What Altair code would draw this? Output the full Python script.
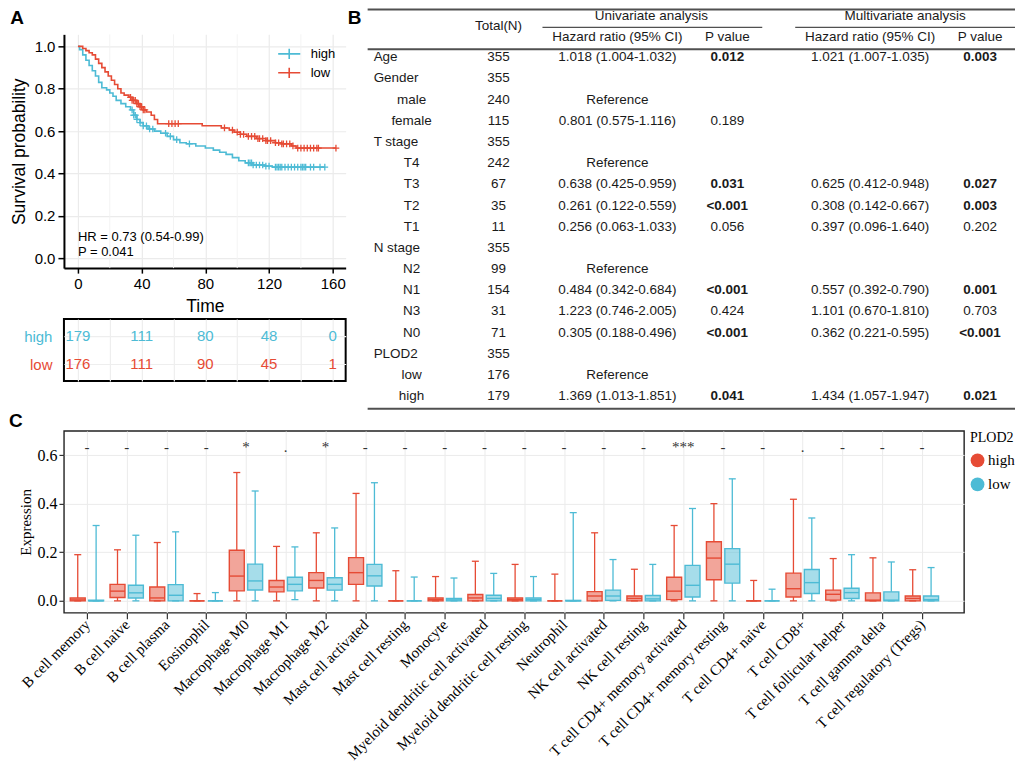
import json
import numpy as np
import pandas as pd
import altair as alt

SANS = "Liberation Sans"
SERIF = "Liberation Serif"
RED = "#E64B35"
CYAN = "#4DBBD5"
TXT = "#1a1a1a"
groups = ["high", "low"]

# ---------------- Panel A: Kaplan-Meier curves ----------------
high_time = [0, 1, 3, 5, 7, 9, 11, 13, 15, 18, 20, 22, 24, 27, 30, 33, 35, 37, 39, 41,
             44, 48, 52, 56, 60, 64, 68, 74, 80, 85, 89, 93, 97, 101, 105, 110, 117, 122]
high_surv = [1.0, 0.985, 0.96, 0.935, 0.91, 0.885, 0.86, 0.83, 0.805, 0.795, 0.78, 0.765,
             0.745, 0.73, 0.715, 0.70, 0.675, 0.655, 0.64, 0.625, 0.61, 0.60, 0.59, 0.575,
             0.56, 0.545, 0.54, 0.53, 0.52, 0.51, 0.50, 0.49, 0.475, 0.46, 0.45, 0.44, 0.435, 0.43]
high_censor = [34, 35, 36, 37, 39, 41, 43, 45, 47, 55, 58, 62, 70, 107, 108, 109, 110, 112,
               114, 116, 118, 120, 124, 125, 126, 127, 128, 130, 132, 134, 136, 138, 140,
               141, 142, 143, 146, 148, 152, 155]
low_time = [0, 3, 5, 7, 9, 11, 13, 15, 17, 19, 21, 23, 25, 27, 29, 32, 34, 37, 39, 41,
            43, 46, 48, 50, 78, 90, 95, 98, 102, 106, 112, 118, 124, 128, 134, 137]
low_surv = [1.0, 0.99, 0.98, 0.97, 0.96, 0.94, 0.92, 0.90, 0.88, 0.86, 0.84, 0.82, 0.80,
            0.78, 0.77, 0.76, 0.745, 0.73, 0.715, 0.70, 0.69, 0.675, 0.655, 0.635, 0.625,
            0.615, 0.605, 0.595, 0.585, 0.575, 0.565, 0.555, 0.545, 0.54, 0.53, 0.52]
low_censor = [33, 34, 35, 36, 37, 38, 39, 40, 41, 42, 57, 59, 61, 63, 92, 97, 100, 102, 104,
              107, 109, 111, 113, 114, 116, 118, 119, 121, 124, 126, 128, 129, 131, 133, 135,
              138, 140, 142, 144, 146, 148, 150, 151, 162]
km_ticks_x = [0, 40, 80, 120, 160]
km_minor_x = [20, 60, 100, 140]
km_ticks_y = [0.0, 0.2, 0.4, 0.6, 0.8, 1.0]
hr_labels = ["HR = 0.73 (0.54-0.99)", "P = 0.041"]
hr_time = [0, 0]
hr_surv = [0.10, 0.03]

risk_times = [0, 40, 80, 120, 160]
risk_high = [179, 111, 80, 48, 0]
risk_low = [176, 111, 90, 45, 1]

# ---------------- Panel B: Cox table ----------------
row_labels = ["Age", "Gender", "male", "female", "T stage", "T4", "T3", "T2", "T1",
              "N stage", "N2", "N1", "N3", "N0", "PLOD2", "low", "high"]
row_is_sub = [0, 0, 1, 1, 0, 1, 1, 1, 1, 0, 1, 1, 1, 1, 0, 1, 1]
row_total = [355, 355, 240, 115, 355, 242, 67, 35, 11, 355, 99, 154, 31, 71, 355, 176, 179]
uni_hr = ["1.018 (1.004-1.032)", "", "Reference", "0.801 (0.575-1.116)", "", "Reference",
          "0.638 (0.425-0.959)", "0.261 (0.122-0.559)", "0.256 (0.063-1.033)", "", "Reference",
          "0.484 (0.342-0.684)", "1.223 (0.746-2.005)", "0.305 (0.188-0.496)", "", "Reference",
          "1.369 (1.013-1.851)"]
uni_p = ["0.012", "", "", "0.189", "", "", "0.031", "<0.001", "0.056", "", "", "<0.001",
         "0.424", "<0.001", "", "", "0.041"]
multi_hr = ["1.021 (1.007-1.035)", "", "", "", "", "", "0.625 (0.412-0.948)",
            "0.308 (0.142-0.667)", "0.397 (0.096-1.640)", "", "", "0.557 (0.392-0.790)",
            "1.101 (0.670-1.810)", "0.362 (0.221-0.595)", "", "", "1.434 (1.057-1.947)"]
multi_p = ["0.003", "", "", "", "", "", "0.027", "0.003", "0.202", "", "", "0.001", "0.703",
           "<0.001", "", "", "0.021"]

# ---------------- Panel C: immune cell boxplots ----------------
cells = ["B cell memory", "B cell naive", "B cell plasma", "Eosinophil", "Macrophage M0",
         "Macrophage M1", "Macrophage M2", "Mast cell activated", "Mast cell resting",
         "Monocyte", "Myeloid dendritic cell activated", "Myeloid dendritic cell resting",
         "Neutrophil", "NK cell activated", "NK cell resting", "T cell CD4+ memory activated",
         "T cell CD4+ memory resting", "T cell CD4+ naive", "T cell CD8+",
         "T cell follicular helper", "T cell gamma delta", "T cell regulatory (Tregs)"]
signif = ["-", "-", "-", "-", "*", ".", "*", "-", "-", "-", "-", "-", "-", "-", "-", "***",
          "-", "-", ".", "-", "-", "-"]
high_lo = [0, 0, 0, 0, 0, 0, 0, 0, 0, 0, 0, 0, 0, 0, 0, 0, 0, 0, 0, 0, 0, 0]
high_q1 = [0, 0.014, 0, 0, 0.041, 0.037, 0.053, 0.068, 0, 0, 0, 0, 0, 0, 0, 0.005, 0.087,
           0, 0.016, 0.003, 0, 0]
high_med = [0.004, 0.04, 0.012, 0, 0.102, 0.057, 0.084, 0.116, 0, 0.005, 0.012, 0.005, 0,
            0.02, 0.01, 0.04, 0.176, 0, 0.05, 0.027, 0.003, 0.01]
high_q3 = [0.012, 0.068, 0.057, 0, 0.208, 0.084, 0.116, 0.178, 0, 0.012, 0.026, 0.012, 0,
           0.038, 0.02, 0.097, 0.243, 0, 0.114, 0.044, 0.033, 0.02]
high_hi = [0.19, 0.21, 0.24, 0.03, 0.528, 0.224, 0.28, 0.442, 0.124, 0.10, 0.163, 0.15, 0.11,
           0.28, 0.13, 0.31, 0.40, 0.084, 0.418, 0.174, 0.177, 0.128]
low_lo = [0, 0, 0, 0, 0, 0.005, 0, 0, 0, 0, 0, 0, 0, 0, 0, 0, 0, 0, 0, 0, 0, 0]
low_q1 = [0, 0.012, 0, 0, 0.045, 0.041, 0.044, 0.061, 0, 0, 0, 0, 0, 0.002, 0, 0.016, 0.073,
          0, 0.03, 0.01, 0, 0]
low_med = [0, 0.033, 0.023, 0, 0.082, 0.068, 0.068, 0.103, 0, 0.004, 0.01, 0.005, 0, 0.02,
           0.008, 0.064, 0.151, 0, 0.075, 0.034, 0.003, 0.005]
low_q3 = [0.003, 0.064, 0.067, 0, 0.151, 0.097, 0.095, 0.15, 0, 0.01, 0.023, 0.012, 0.002,
          0.044, 0.022, 0.146, 0.215, 0, 0.129, 0.052, 0.037, 0.02]
low_hi = [0.31, 0.27, 0.284, 0.034, 0.452, 0.222, 0.30, 0.486, 0.098, 0.094, 0.113, 0.10,
          0.363, 0.17, 0.15, 0.38, 0.502, 0.048, 0.341, 0.19, 0.16, 0.137]

# ======================= Panel A =======================
def step_frame(t, s, cens, g):
    return pd.DataFrame({"time": list(t) + [max(cens)], "surv": list(s) + [s[-1]], "strata": g})


def censor_frame(t, s, cens, g):
    idx = np.searchsorted(np.array(t), np.array(cens), side="right") - 1
    return pd.DataFrame({"time": cens, "surv": np.array(s)[idx], "strata": g})


km_lines = pd.concat([step_frame(high_time, high_surv, high_censor, "high"),
                      step_frame(low_time, low_surv, low_censor, "low")])
km_cens = pd.concat([censor_frame(high_time, high_surv, high_censor, "high"),
                     censor_frame(low_time, low_surv, low_censor, "low")])

xs = alt.Scale(domain=[-8.8, 168.1], nice=False, zero=False)
ys = alt.Scale(domain=[-0.047, 1.057], nice=False, zero=False)
cs = alt.Scale(domain=groups, range=[CYAN, RED])

x_axis_km = alt.Axis(values=km_ticks_x, title="Time", grid=True, gridColor="#EBEBEB",
                     gridWidth=1.2, domainColor="black", domainWidth=2, tickColor="black",
                     tickWidth=1.5, tickSize=5, labelFont=SANS, labelFontSize=15,
                     labelColor="black", labelPadding=3, labelFlush=False, titleFont=SANS,
                     titleFontSize=17.5, titleFontWeight="normal", titleColor="black",
                     titlePadding=6)
y_axis_km = alt.Axis(values=km_ticks_y, format=".1f", title="Survival probability", grid=True,
                     gridColor="#EBEBEB", gridWidth=1.2, domainColor="black", domainWidth=2,
                     tickColor="black", tickWidth=1.5, tickSize=6, labelFont=SANS,
                     labelFontSize=15, labelColor="black", labelPadding=3, labelFlush=False,
                     titleFont=SANS, titleFontSize=17.5, titleFontWeight="normal",
                     titleColor="black", titlePadding=6)
CROSS = "M-1,0L1,0M0,-1L0,1"

minor = alt.Chart(pd.DataFrame({"time": km_minor_x})).mark_rule(
    color="#F2F2F2", strokeWidth=0.9).encode(x=alt.X("time:Q", scale=xs, axis=x_axis_km))
lines = alt.Chart(km_lines).mark_line(interpolate="step-after", strokeWidth=1.6).encode(
    x=alt.X("time:Q", scale=xs, axis=x_axis_km),
    y=alt.Y("surv:Q", scale=ys, axis=y_axis_km),
    color=alt.Color("strata:N", scale=cs, legend=alt.Legend(
        title=None, orient="top-right", offset=10, labelFont=SANS, labelFontSize=13,
        labelColor="black", symbolType="M-1.3,0L1.3,0M0,-0.6L0,0.6", symbolSize=289,
        symbolStrokeWidth=1.6, rowPadding=1, labelOffset=12)),
)
cens = alt.Chart(km_cens).mark_point(shape=CROSS, filled=False, size=45, strokeWidth=1.3,
                                     opacity=1).encode(
    x=alt.X("time:Q", scale=xs, axis=x_axis_km),
    y=alt.Y("surv:Q", scale=ys, axis=y_axis_km),
    color=alt.Color("strata:N", scale=cs, legend=None),
)
hr = alt.Chart(pd.DataFrame({"time": hr_time, "surv": hr_surv, "label": hr_labels})).mark_text(
    align="left", baseline="middle", font=SANS, fontSize=13, color="black").encode(
    x=alt.X("time:Q", scale=xs, axis=x_axis_km),
    y=alt.Y("surv:Q", scale=ys, axis=y_axis_km),
    text="label:N",
)
km = alt.layer(minor, lines, cens, hr).properties(
    width=282, height=234,
    title=alt.TitleParams("A", anchor="start", fontSize=19, fontWeight="bold", font=SANS,
                          color="black", offset=6))

risk_df = pd.DataFrame({"time": risk_times * 2, "n": risk_high + risk_low,
                        "risk_group": ["high"] * len(risk_times) + ["low"] * len(risk_times)})
risk = alt.Chart(risk_df).mark_text(font=SANS, fontSize=15).encode(
    x=alt.X("time:Q", scale=xs, axis=alt.Axis(values=list(range(0, 161, 20)), labels=False,
                                              ticks=False, domain=False, title=None, grid=True,
                                              gridColor="#EEEEEE", gridWidth=1.2)),
    y=alt.Y("risk_group:N", sort=groups, scale=alt.Scale(type="point", padding=0.607),
            axis=alt.Axis(title=None, ticks=False, domain=False, grid=True, gridColor="#EEEEEE",
                          gridWidth=1.2, labelFont=SANS, labelFontSize=15, labelPadding=12,
                          labelColor=alt.condition("datum.value == 'high'", alt.value(CYAN),
                                                   alt.value(RED)))),
    text="n:Q",
    color=alt.Color("risk_group:N", scale=cs, legend=None),
).properties(width=282, height=62, view=alt.ViewBackground(stroke="black", strokeWidth=2))

# ======================= Panel B =======================
B_W, B_H = 668, 377
col_x = {"label": 26, "sub": 64, "total": 151, "uni_hr": 270, "uni_p": 380,
         "multi_hr": 523, "multi_p": 633, "uni_head": 304, "multi_head": 558}
R_TOP, R_VIEW, R_BOTTOM = -2.264, -1.085, 16.70
r_group, r_total, r_span, r_sub, r_head_rule, r_end = -1.934, -1.462, -1.415, -0.943, -0.377, 16.6


def is_sig(p):
    return p.startswith("<") or float(p) < 0.05


cells_rows = []
for r, lab in enumerate(row_labels):
    if row_is_sub[r]:
        cells_rows.append({"x": col_x["sub"], "r": r, "text": lab, "kind": "center"})
    else:
        cells_rows.append({"x": col_x["label"], "r": r, "text": lab, "kind": "left"})
    cells_rows.append({"x": col_x["total"], "r": r, "text": str(row_total[r]), "kind": "center"})
    for key, val in (("uni_hr", uni_hr[r]), ("multi_hr", multi_hr[r])):
        if val:
            cells_rows.append({"x": col_x[key], "r": r, "text": val, "kind": "center"})
    for key, val in (("uni_p", uni_p[r]), ("multi_p", multi_p[r])):
        if val:
            cells_rows.append({"x": col_x[key], "r": r, "text": val,
                               "kind": "bold" if is_sig(val) else "center"})
for key, txt, rr in (("total", "Total(N)", r_total), ("uni_head", "Univariate analysis", r_group),
                     ("multi_head", "Multivariate analysis", r_group),
                     ("uni_hr", "Hazard ratio (95% CI)", r_sub), ("uni_p", "P value", r_sub),
                     ("multi_hr", "Hazard ratio (95% CI)", r_sub), ("multi_p", "P value", r_sub)):
    cells_rows.append({"x": col_x[key], "r": rr, "text": txt, "kind": "center"})
tcells = pd.DataFrame(cells_rows)

rules_df = pd.DataFrame({
    "x": [20, 195, 448, 20, 20], "x2": [B_W, 415, B_W, B_W, B_W],
    "r": [R_TOP, r_span, r_span, r_head_rule, r_end], "w": [2, 1.3, 1.3, 2, 2]})

bx = alt.Scale(domain=[0, B_W], nice=False, zero=False)
by = alt.Scale(domain=[R_VIEW, R_BOTTOM], reverse=True, nice=False, zero=False)
tbx = alt.X("x:Q", scale=bx, axis=None)
tby = alt.Y("r:Q", scale=by, axis=None)

t_rules = alt.Chart(rules_df).mark_rule(color="#505050").encode(
    x=tbx, x2="x2:Q", y=tby, strokeWidth=alt.StrokeWidth("w:Q", scale=None))
t_left = alt.Chart(tcells[tcells.kind == "left"]).mark_text(
    align="left", baseline="middle", font=SANS, fontSize=13.5, color=TXT).encode(
    x=tbx, y=tby, text="text:N")
t_center = alt.Chart(tcells[tcells.kind == "center"]).mark_text(
    align="center", baseline="middle", font=SANS, fontSize=13.5, color=TXT).encode(
    x=tbx, y=tby, text="text:N")
t_bold = alt.Chart(tcells[tcells.kind == "bold"]).mark_text(
    align="center", baseline="middle", font=SANS, fontSize=13.5, fontWeight="bold",
    color=TXT).encode(x=tbx, y=tby, text="text:N")
t_panel = alt.Chart(pd.DataFrame({"x": [0], "r": [R_TOP], "text": ["B"]})).mark_text(
    align="left", baseline="top", font=SANS, fontSize=19, fontWeight="bold",
    color="black").encode(x=tbx, y=tby, text="text:N")
table = alt.layer(t_rules, t_left, t_center, t_bold, t_panel).properties(width=B_W, height=B_H)

# ======================= Panel C =======================
DODGE = {"high": -0.231, "low": 0.231}
BOX_HALF = 0.188
CAP_HALF = 0.088
box_rows = []
stats = {"high": (high_lo, high_q1, high_med, high_q3, high_hi),
         "low": (low_lo, low_q1, low_med, low_q3, low_hi)}
for i, cname in enumerate(cells):
    for g in groups:
        lo, q1, md, q3, hi = (a[i] for a in stats[g])
        xc = i + 1 + DODGE[g]
        box_rows.append({"cell": cname, "PLOD2": g, "lo": lo, "q1": q1, "med": md, "q3": q3,
                         "hi": hi, "xc": xc, "xl": xc - BOX_HALF, "xr": xc + BOX_HALF,
                         "cl": xc - CAP_HALF, "cr": xc + CAP_HALF})
box_df = pd.DataFrame(box_rows)
sig_df = pd.DataFrame({"idx": list(range(1, len(cells) + 1)), "sig": signif})

C_W, C_H = 901, 182
cx = alt.Scale(domain=[0.422, 23.06], nice=False, zero=False)
cy = alt.Scale(domain=[-0.049, 0.699], nice=False, zero=False)
cc = alt.Scale(domain=groups, range=[RED, CYAN])
label_expr = "[" + ",".join(json.dumps(c) for c in cells) + "][datum.value - 1]"
c_x_axis = alt.Axis(values=list(range(1, len(cells) + 1)), labelExpr=label_expr, title=None,
                    grid=True, gridColor="#EBEBEB", gridWidth=1, domain=False, tickColor="#333333",
                    tickSize=6, tickWidth=1.2, labelAngle=-45, labelAlign="right",
                    labelBaseline="middle", labelFont=SERIF, labelFontSize=15, labelColor="black",
                    labelOverlap=False, labelFlush=False, labelBound=False, labelPadding=3,
                    labelLimit=0)
c_y_axis = alt.Axis(values=[0, 0.2, 0.4, 0.6], format=".1f", title="Expression", grid=True,
                    gridColor="#EBEBEB", gridWidth=1, domain=False, tickColor="#333333",
                    tickSize=5, tickWidth=1.2, labelFont=SERIF, labelFontSize=16,
                    labelColor="black", labelPadding=2, titleFont=SERIF, titleFontSize=15,
                    titleFontWeight="normal", titleColor="black", titlePadding=3)


def CX(f):
    return alt.X(f, scale=cx, axis=c_x_axis)


def CY(f):
    return alt.Y(f, scale=cy, axis=c_y_axis)


ccol = alt.Color("PLOD2:N", scale=cc, legend=None)
base = alt.Chart(box_df)
# legend carrier: draws no marks (all rows filtered out), only provides the PLOD2 legend
legend_layer = base.transform_filter("false").mark_circle(opacity=1, strokeWidth=0).encode(
    x=CX("xc:Q"), y=CY("med:Q"),
    color=alt.Color("PLOD2:N", scale=cc, legend=alt.Legend(
        title="PLOD2", orient="right", offset=6, titleFont=SERIF, titleFontSize=14,
        titleFontWeight="normal", titleColor="black", labelFont=SERIF, labelFontSize=15,
        labelColor="black", symbolType="circle", symbolSize=190, symbolOpacity=1,
        symbolStrokeWidth=0, rowPadding=8, labelOffset=3, titlePadding=8)))
whisk_hi = base.mark_rule(strokeWidth=1.3).encode(x=CX("xc:Q"), y=CY("q3:Q"), y2="hi:Q", color=ccol)
whisk_lo = base.mark_rule(strokeWidth=1.3).encode(x=CX("xc:Q"), y=CY("lo:Q"), y2="q1:Q", color=ccol)
cap_hi = base.mark_rule(strokeWidth=1.3).encode(x=CX("cl:Q"), x2="cr:Q", y=CY("hi:Q"), color=ccol)
cap_lo = base.mark_rule(strokeWidth=1.3).encode(x=CX("cl:Q"), x2="cr:Q", y=CY("lo:Q"), color=ccol)
box_fill = base.mark_bar(fillOpacity=0.5, strokeWidth=0).encode(
    x=CX("xl:Q"), x2="xr:Q", y=CY("q1:Q"), y2="q3:Q", color=ccol)
box_line = base.mark_bar(filled=False, strokeWidth=1.4).encode(
    x=CX("xl:Q"), x2="xr:Q", y=CY("q1:Q"), y2="q3:Q", color=ccol)
median = base.mark_rule(strokeWidth=1.4).encode(x=CX("xl:Q"), x2="xr:Q", y=CY("med:Q"), color=ccol)
sig = alt.Chart(sig_df).mark_text(font=SERIF, fontSize=15, color="#333333", baseline="middle").encode(
    x=CX("idx:Q"), y=alt.Y(datum=0.632, scale=cy, axis=c_y_axis), text="sig:N")
boxc = alt.layer(legend_layer, whisk_hi, whisk_lo, cap_hi, cap_lo, box_fill, box_line, median,
                 sig).properties(
    width=C_W, height=C_H,
    view=alt.ViewBackground(stroke="#222222", strokeWidth=1.4),
    title=alt.TitleParams("C", anchor="start", fontSize=19, fontWeight="bold", font=SANS,
                          color="black", offset=0, dx=-10))

left = alt.vconcat(km, risk, spacing=3).resolve_scale(color="independent").resolve_legend(color="independent")
top = (alt.hconcat(left, table, spacing=1)
       .resolve_scale(color="independent").resolve_legend(color="independent"))
chart = (alt.vconcat(top, boxc, spacing=0)
         .resolve_scale(color="independent").resolve_legend(color="independent")
         .properties(padding=0).configure_view(stroke=None))
chart.save("out.html", embed_options={"renderer": "svg", "actions": False})
